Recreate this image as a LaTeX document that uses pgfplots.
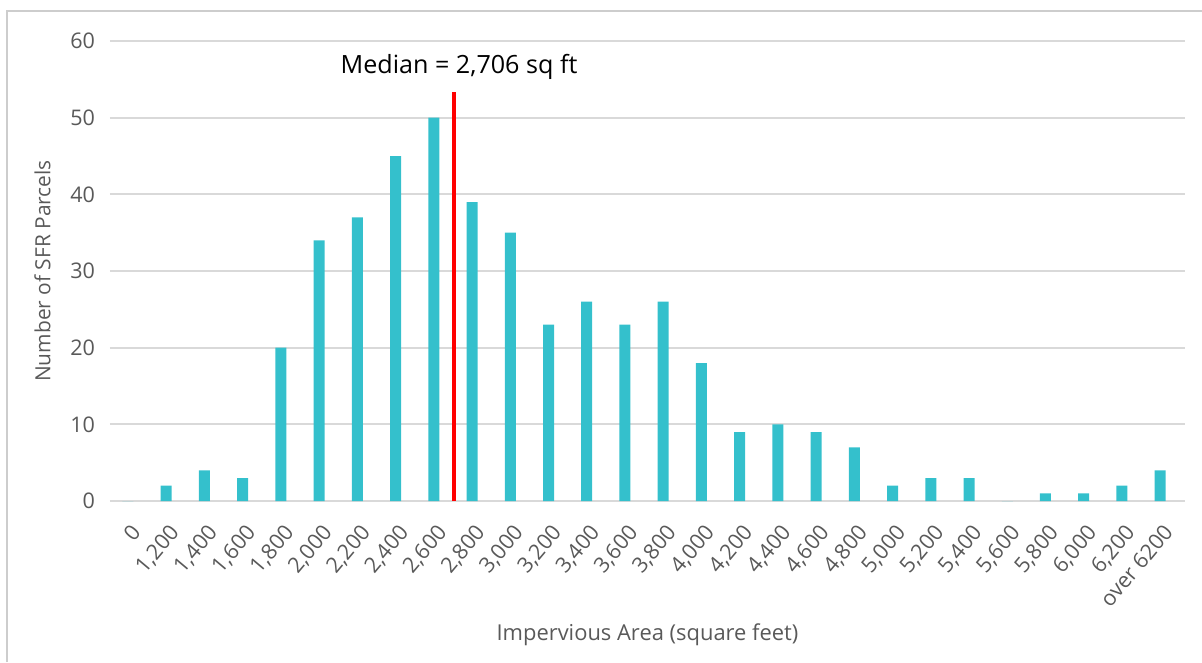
\documentclass[border=0pt]{standalone}
\usepackage{pgfplots}
\pgfplotsset{compat=1.18}
\usepackage{fontspec}
\setmainfont{Open Sans}
\definecolor{barc}{RGB}{52,192,204}
\definecolor{tickc}{RGB}{89,89,89}
\definecolor{gridc}{RGB}{217,217,217}
\definecolor{framec}{RGB}{205,205,205}
\begin{document}
\begin{tikzpicture}[x=1bp,y=1bp]
\useasboundingbox (-55,-80.5) rectangle (546,250.5);
\draw[framec, line width=1.2bp] (-51.5,-80.5) -- (-51.5,245) -- (546,245);
\begin{axis}[
  at={(0,0)}, anchor=south west,
  scale only axis, width=537.5bp, height=230bp,
  xmin=-0.47, xmax=27.65, ymin=0, ymax=60,
  axis line style={draw=none},
  ymajorgrids, grid style={gridc, line width=1bp},
  major tick length=0pt,
  ytick={0,10,20,30,40,50,60},
  xtick={0,...,27},
  xticklabels={0,{1,200},{1,400},{1,600},{1,800},{2,000},{2,200},{2,400},{2,600},{2,800},{3,000},{3,200},{3,400},{3,600},{3,800},{4,000},{4,200},{4,400},{4,600},{4,800},{5,000},{5,200},{5,400},{5,600},{5,800},{6,000},{6,200},over 6200},
  /pgf/number format/assume math mode=true,
  yticklabel style={font=\fontsize{10.8}{12}\selectfont, text=tickc, xshift=-4bp},
  xticklabel style={font=\fontsize{10.8}{12}\selectfont, text=tickc, rotate=50, anchor=north east, inner sep=1bp, xshift=-6.5bp, yshift=-6.5bp},
  xlabel={Impervious Area (square feet)},
  ylabel={Number of SFR Parcels},
  xlabel style={font=\fontsize{11}{13}\selectfont, text=tickc, at={(rel axis cs:0.5,0)}, anchor=center, yshift=-67bp},
  ylabel style={font=\fontsize{10.5}{12}\selectfont, text=tickc},
  ylabel shift=3bp,
  ybar, bar width=5.5bp,
  clip=false,
]
\addplot[fill=barc, draw=none, bar shift=0pt] coordinates {
(0,0) (1,2) (2,4) (3,3) (4,20) (5,34) (6,37) (7,45) (8,50) (9,39)
(10,35) (11,23) (12,26) (13,23) (14,26) (15,18) (16,9) (17,10) (18,9) (19,7)
(20,2) (21,3) (22,3) (23,0) (24,1) (25,1) (26,2) (27,4)};
\addplot[sharp plot, red, line width=2bp, no marks] coordinates {(8.53,0) (8.53,53.3)};
\node[font=\fontsize{12.6}{14}\selectfont, anchor=center] at (axis cs:8.66,56.6) {Median = 2,706 sq ft};
\end{axis}
\end{tikzpicture}
\end{document}
